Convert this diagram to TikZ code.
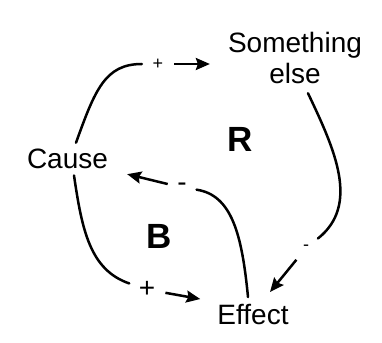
\documentclass[tikz,border=0pt]{standalone}
\usepackage{fontspec}
\setmainfont{Liberation Sans}
\usetikzlibrary{arrows.meta}
\tikzset{
  lbl/.style={font=\fontsize{28}{31}\selectfont, inner sep=0pt, anchor=base},
  loopmark/.style={font=\fontsize{35}{40}\selectfont\bfseries, inner sep=0pt, anchor=base},
  polarity/.style={circle, inner sep=0pt, minimum size=#1},
  link/.style={line width=2.5pt, line cap=round},
  arr/.style={line width=2.5pt, -{Stealth[length=14pt,width=12pt,inset=2pt]}}
}
\begin{document}
\begin{tikzpicture}[x=1pt,y=-1pt]
\useasboundingbox (0,0) rectangle (382,342);
% variables
\node[lbl] (cause) at (67.5,168) {Cause};
\node[lbl, anchor=north, align=center] (else) at (295,31.6) {Something\\else};
\node[lbl] (effect) at (253,324) {Effect};
% loop markers
\node[loopmark] (R) at (240.5,151) {R};
\node[loopmark] (B) at (159.5,248) {B};
% polarity labels
\node[polarity=32pt, font=\fontsize{18}{20}\selectfont] (p1) at (158,64) {+};
\node[polarity=29pt, font=\fontsize{28}{31}\selectfont] (m1) at (182,187.5) {-};
\node[polarity=30pt, font=\fontsize{18}{20}\selectfont] (m2) at (306,248) {-};
\node[polarity=37pt, font=\fontsize{28}{31}\selectfont] (p2) at (147,289.5) {+};
% Cause -> Something else
\draw[link] ([shift={(8.5,-5.5)}]cause.north) .. controls (95,90) and (105,64) .. (p1);
\draw[arr, shorten >=18pt] (p1.east) -- (p1.east -| else.west);
% Something else -> Effect
\draw[link] ([shift={(13,9.7)}]else.south) .. controls (335,150) and (360,205) .. (m2);
\draw[arr] (m2) -- ([shift={(17,-11.5)}]effect.north);
% Effect -> Cause
\draw[link] ([shift={(-5,-6.5)}]effect.north) .. controls (242,235) and (232,195) .. (m1);
\draw[arr] (m1) -- ([shift={(19,5.7)}]cause.south east);
% Cause -> Effect
\draw[link] ([shift={(6.5,7)}]cause.south) .. controls (82,230) and (90,270) .. (p2);
\draw[arr] (p2) -- ([shift={(-17,-4.5)}]effect.north west);
\end{tikzpicture}
\end{document}
